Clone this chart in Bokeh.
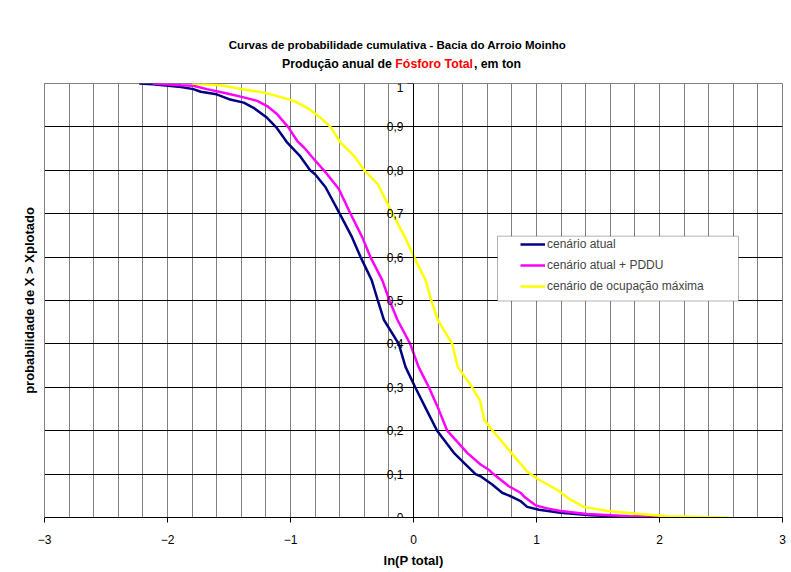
from bokeh.plotting import figure
from bokeh.layouts import column
from bokeh.models import (Range1d, FixedTicker, LinearAxis, CustomJSTickFormatter,
                          Legend, LegendItem, BoxAnnotation)
from bokeh.core.properties import value
from bokeh.embed import file_html
from bokeh.resources import INLINE

# ---------------- data ----------------
x_atual = [-2.23, -2.12, -1.89, -1.79, -1.73, -1.60, -1.49, -1.38, -1.30, -1.19,
           -1.11, -1.03, -0.92, -0.84, -0.80, -0.715, -0.60, -0.50, -0.43, -0.34,
           -0.29, -0.24, -0.12, -0.065, 0.014, 0.106, 0.192, 0.328, 0.504, 0.545,
           0.64, 0.721, 0.789, 0.87, 0.924, 1.02, 1.195, 1.44, 1.75, 2.05]
p_atual = [1.0, 0.998, 0.992, 0.987, 0.981, 0.975, 0.963, 0.956, 0.944, 0.921,
           0.897, 0.865, 0.832, 0.80, 0.791, 0.761, 0.70, 0.646, 0.60, 0.547,
           0.50, 0.455, 0.40, 0.347, 0.30, 0.248, 0.20, 0.149, 0.10, 0.095,
           0.076, 0.057, 0.049, 0.038, 0.0245, 0.018, 0.011, 0.005, 0.002, 0.0]

x_pddu = [-2.12, -1.89, -1.79, -1.68, -1.515, -1.38, -1.27, -1.19, -1.108, -1.02,
          -0.946, -0.892, -0.81, -0.729, -0.702, -0.607, -0.512, -0.417, -0.35, -0.254,
          -0.195, -0.13, -0.027, 0.041, 0.125, 0.206, 0.274, 0.437, 0.545, 0.612,
          0.65, 0.775, 0.87, 0.90, 0.992, 1.087, 1.195, 1.41, 1.76, 2.17]
p_pddu = [1.0, 0.996, 0.995, 0.987, 0.977, 0.968, 0.96, 0.948, 0.929, 0.90,
          0.868, 0.853, 0.826, 0.80, 0.791, 0.757, 0.70, 0.646, 0.60, 0.547,
          0.50, 0.455, 0.40, 0.347, 0.30, 0.248, 0.20, 0.149, 0.122, 0.11,
          0.10, 0.072, 0.057, 0.048, 0.028, 0.021, 0.015, 0.008, 0.003, 0.0]

x_max = [-1.80, -1.569, -1.393, -1.217, -1.108, -0.973, -0.864, -0.756, -0.675, -0.593,
         -0.485, -0.40, -0.29, -0.17, -0.07, 0.005, 0.098, 0.145, 0.198, 0.315,
         0.36, 0.477, 0.54, 0.575, 0.645, 0.795, 0.924, 1.02, 1.168, 1.276,
         1.385, 1.575, 1.846, 2.06, 2.56]
p_max = [1.0, 0.996, 0.987, 0.979, 0.971, 0.96, 0.944, 0.921, 0.90, 0.864,
         0.834, 0.80, 0.768, 0.70, 0.646, 0.60, 0.547, 0.50, 0.455, 0.40,
         0.347, 0.30, 0.27, 0.225, 0.20, 0.149, 0.106, 0.087, 0.064, 0.041,
         0.0245, 0.015, 0.008, 0.003, 0.0]

series_names = ["cenário atual", "cenário atual + PDDU", "cenário de ocupação máxima"]
series_colors = ["#000080", "#FF00FF", "#FFFF00"]

x_ticks = [-3, -2, -1, 0, 1, 2, 3]
x_grid = [-2.8, -2.6, -2.4, -2.2, -2.0, -1.8, -1.6, -1.4, -1.2, -1.0, -0.8, -0.6, -0.4, -0.2,
          0.2, 0.4, 0.6, 0.8, 1.0, 1.2, 1.4, 1.6, 1.8, 2.0, 2.2, 2.4, 2.6, 2.8]
y_ticks = [0, 0.1, 0.2, 0.3, 0.4, 0.5, 0.6, 0.7, 0.8, 0.9, 1.0]
y_grid = [0.1, 0.2, 0.3, 0.4, 0.5, 0.6, 0.7, 0.8, 0.9]

title1 = "Curvas de probabilidade cumulativa - Bacia do Arroio Moinho"
title2a, title2b, title2c = "Produção anual de", "Fósforo Total", ", em ton"
xlabel = "ln(P total)"
ylabel = "probabilidade de X > Xplotado"

# ---------------- layout (page px) ----------------
FONT = "Liberation Sans"
W = 788
TOTAL_H = 570
FL, FR, FT, FB = 44, 782, 83, 518   # plot frame edges
TH = FT - 1                          # height of the title strip
ppx = (FR - FL) / 6.0

# ---- title strip (same horizontal frame as the plot; x range in page pixels) ----
t = figure(width=W, height=TH, x_range=Range1d(FL, FR), y_range=Range1d(0, TH),
           output_backend="svg", toolbar_location=None,
           x_axis_location=None, y_axis_location=None,
           min_border_left=FL, min_border_right=W - FR, min_border_top=0, min_border_bottom=0)
t.outline_line_color = None
t.background_fill_color = "white"
t.border_fill_color = "white"
t.grid.visible = False


def ty(py):
    return TH - py


TFS1 = 11.5
TFS2 = 12.3
style1 = dict(text_font=value(FONT), text_font_size=f"{TFS1}px", text_font_style="bold",
              text_baseline="middle")
style2 = dict(text_font=value(FONT), text_font_size=f"{TFS2}px", text_font_style="bold",
              text_baseline="middle")
w_a = 9.225 * TFS2          # "Produção anual de " advance (Arial bold metrics)
w_b = 6.389 * TFS2          # "Fósforo Total"
w_c = 3.834 * TFS2          # ", em ton"
cx2 = 401.0
x_start = cx2 - (w_a + w_b + w_c) / 2
x_red = x_start + w_a
t.text(x=[397.0], y=[ty(44)], text=[title1], text_align="center", text_color="black", **style1)
t.text(x=[x_red - 0.278 * TFS2], y=[ty(63)], text=[title2a], text_align="right", text_color="black", **style2)
t.text(x=[x_red], y=[ty(63)], text=[title2b], text_align="left", text_color="#FF0000", **style2)
t.text(x=[x_red + w_b], y=[ty(63)], text=[title2c], text_align="left", text_color="black", **style2)

# ---- main plot ----
p = figure(width=W, height=TOTAL_H - TH, x_range=Range1d(-3, 3), y_range=Range1d(0, 1),
           output_backend="svg", toolbar_location=None,
           min_border_left=FL, min_border_right=W - FR,
           min_border_top=FT - TH, min_border_bottom=TOTAL_H - FB)
p.background_fill_color = "white"
p.border_fill_color = "white"
p.outline_line_color = "#808080"
p.outline_line_width = 1

# grids
p.xgrid.ticker = FixedTicker(ticks=x_grid)
p.xgrid.grid_line_color = "#808080"
p.xgrid.grid_line_width = 1
p.ygrid.ticker = FixedTicker(ticks=y_grid)
p.ygrid.grid_line_color = "black"
p.ygrid.grid_line_width = 1

# x axis
ax = p.xaxis[0]
ax.ticker = FixedTicker(ticks=x_ticks)
ax.axis_line_color = "black"
ax.major_tick_line_color = "black"
ax.major_tick_out = 5
ax.major_tick_in = 0
ax.minor_tick_out = 0
ax.minor_tick_in = 0
ax.major_label_standoff = 12
ax.major_label_text_font = FONT
ax.major_label_text_font_size = "12px"
ax.major_label_text_color = "black"
ax.axis_label = xlabel
ax.axis_label_text_font = FONT
ax.axis_label_text_font_size = "13px"
ax.axis_label_text_font_style = "bold"
ax.axis_label_text_color = "black"
ax.axis_label_standoff = 6

# left axis at the frame edge: only carries the title of the vertical axis
ly = p.yaxis[0]
ly.ticker = FixedTicker(ticks=[])
ly.axis_line_color = "#808080"
ly.major_tick_out = 0
ly.major_tick_in = 0
ly.minor_tick_out = 0
ly.minor_tick_in = 0
ly.major_label_standoff = 0
ly.axis_label = ylabel
ly.axis_label_text_font = FONT
ly.axis_label_text_font_size = "13px"
ly.axis_label_text_font_style = "bold"
ly.axis_label_text_color = "black"
ly.axis_label_standoff = 8

# vertical value axis crossing the horizontal axis at x = 0
yv = LinearAxis(fixed_location=0, ticker=FixedTicker(ticks=y_ticks),
                formatter=CustomJSTickFormatter(
                    code="return (Math.round(tick * 10) / 10).toString().replace('.', ',');"),
                axis_line_color="black", major_tick_line_color="black",
                major_tick_out=6, major_tick_in=0, minor_tick_out=0, minor_tick_in=0,
                major_label_standoff=4, major_label_text_font=FONT,
                major_label_text_font_size="12px", major_label_text_color="black")
p.add_layout(yv, "left")

# curves
r1 = p.line(x_atual, p_atual, line_color=series_colors[0], line_width=2.5)
r2 = p.line(x_pddu, p_pddu, line_color=series_colors[1], line_width=2.5)
r3 = p.line(x_max, p_max, line_color=series_colors[2], line_width=2.5)


def dx(px):
    return -3 + (px - FL) / ppx


def dy(py):
    return (FB - py) / (FB - FT)


# legend box + legend
p.add_layout(BoxAnnotation(left=dx(497), right=dx(738), top=dy(236), bottom=dy(301),
                           fill_color="white", fill_alpha=1.0, line_color="black", line_width=1))
legend = Legend(items=[LegendItem(label=series_names[0], renderers=[r1]),
                       LegendItem(label=series_names[1], renderers=[r2]),
                       LegendItem(label=series_names[2], renderers=[r3])],
                location=(520 - FL, 224), padding=0, spacing=7, margin=0,
                glyph_width=25, glyph_height=14, label_height=14, label_standoff=2,
                label_text_font=FONT, label_text_font_size="12px",
                border_line_alpha=0, background_fill_alpha=0)
p.add_layout(legend)

layout = column(t, p, spacing=0)
open("out.html", "w").write(file_html(layout, INLINE))
